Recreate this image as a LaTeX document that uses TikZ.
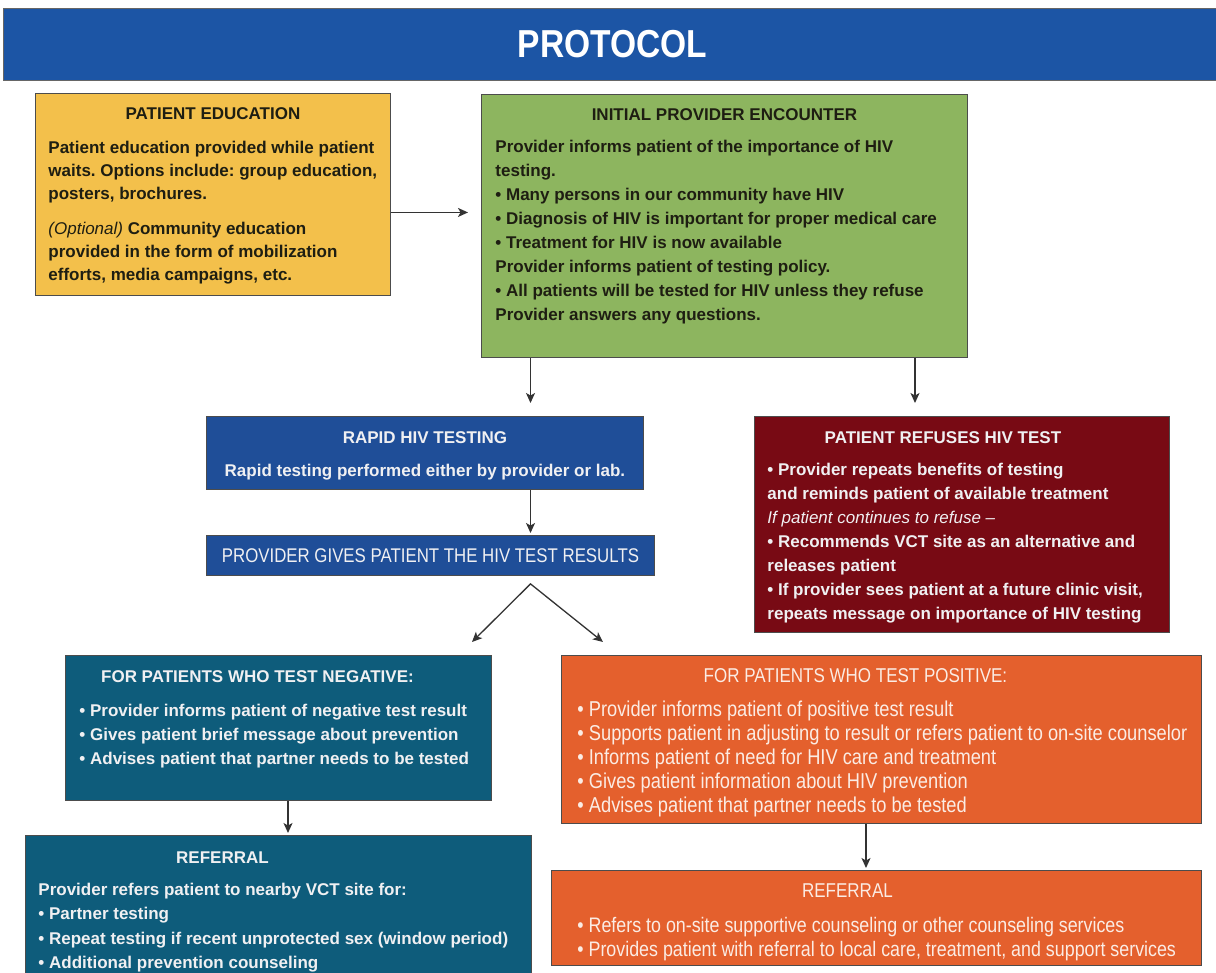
\documentclass[tikz,border=0pt]{standalone}
\usepackage{fontspec}
\setmainfont{Liberation Sans}
\newfontfamily\narrowfont{Liberation Sans}[FakeStretch=0.85]
\newfontfamily\bannerfont{Liberation Sans}[FakeStretch=0.86]
\usetikzlibrary{arrows.meta}
\frenchspacing

\definecolor{bannerblue}{HTML}{1C55A5}
\definecolor{eduyellow}{HTML}{F3C04B}
\definecolor{meetgreen}{HTML}{8DB55F}
\definecolor{testblue}{HTML}{1F4E98}
\definecolor{refusered}{HTML}{780A14}
\definecolor{negteal}{HTML}{0E5C7B}
\definecolor{posorange}{HTML}{E4602D}
\definecolor{darkink}{HTML}{1E1E12}
\definecolor{paleink}{HTML}{F0F0F2}
\definecolor{warmink}{HTML}{FBECE4}

\tikzset{
  card/.style={draw=black!70, line width=0.9pt, anchor=north west, inner sep=0pt},
  boldtext/.style={font=\bfseries\fontsize{17}{24}\selectfont},
  arr/.style={-{Stealth[length=10pt,width=9pt,inset=2.5pt]}, line width=1.3pt, black!80},
}

\begin{document}
\begin{tikzpicture}[x=1pt, y=-1pt]
    \useasboundingbox (0,0) rectangle (1216,973);

    % Kopfzeile
    \node[draw=black!60, fill=bannerblue, text=white, minimum width=1213pt, minimum height=72pt,
          font=\bannerfont\bfseries\fontsize{39}{41}\selectfont] (banner) at (609.5,44) {\hspace*{6pt}PROTOCOL};

    % Patient education
    \node[card, fill=eduyellow, text=darkink, minimum width=355pt, minimum height=202pt,
          font=\bfseries\fontsize{17}{23}\selectfont] (edu) at (35,93) {\parbox[t][202pt][t]{335pt}{%
      \centering\rule{0pt}{26pt}PATIENT EDUCATION\par\vspace{11pt}%
      \raggedright\setlength{\leftskip}{3pt}Patient education provided while patient\\
      waits. Options include: group education,\\
      posters, brochures.\par\vspace{12pt}%
      \textit{\mdseries (Optional)} Community education\\
      provided in the form of mobilization\\
      efforts, media campaigns, etc.}};

    % Initial provider encounter
    \node[card, boldtext, fill=meetgreen, text=darkink, minimum width=486pt, minimum height=263pt]
          (meet) at (481,94) {\parbox[t][263pt][t]{458pt}{%
      \centering\rule{0pt}{26pt}INITIAL PROVIDER ENCOUNTER\par\vspace{8pt}%
      \raggedright Provider informs patient of the importance of HIV\\
      testing.\\
      • Many persons in our community have HIV\\
      • Diagnosis of HIV is important for proper medical care\\
      • Treatment for HIV is now available\\
      Provider informs patient of testing policy.\\
      • All patients will be tested for HIV unless they refuse\\
      Provider answers any questions.}};

    % Rapid testing
    \node[card, boldtext, fill=testblue, text=paleink, minimum width=437pt, minimum height=73pt]
          (rapid) at (206,416) {\parbox[t][73pt][t]{427pt}{%
      \centering\rule{0pt}{27pt}RAPID HIV TESTING\par\vspace{9pt}%
      Rapid testing performed either by provider or lab.}};

    \node[card, fill=testblue, text=paleink, minimum width=448pt, minimum height=40pt,
          font=\narrowfont\fontsize{19.8}{22}\selectfont] (result) at (206,535)
          {PROVIDER GIVES PATIENT THE HIV TEST RESULTS};

    % Patient refuses
    \node[card, boldtext, fill=refusered, text=paleink, minimum width=415pt, minimum height=216pt]
          (refuse) at (754,416) {\parbox[t][216pt][t]{389pt}{%
      \centering\hspace*{-38pt}\rule{0pt}{27pt}PATIENT REFUSES HIV TEST\par\vspace{8pt}%
      \raggedright • Provider repeats benefits of testing\\
      and reminds patient of available treatment\\
      \textit{\mdseries If patient continues to refuse –}\\
      • Recommends VCT site as an alternative and\\
      releases patient\\
      • If provider sees patient at a future clinic visit,\\
      repeats message on importance of HIV testing}};

    % Negative
    \node[card, boldtext, fill=negteal, text=paleink, minimum width=426pt, minimum height=145pt]
          (neg) at (65,655) {\parbox[t][145pt][t]{398pt}{%
      \centering\hspace*{-42pt}\rule{0pt}{27pt}FOR PATIENTS WHO TEST NEGATIVE:\par\vspace{10pt}%
      \raggedright • Provider informs patient of negative test result\\
      • Gives patient brief message about prevention\\
      • Advises patient that partner needs to be tested}};

    \node[card, fill=negteal, text=paleink, minimum width=506pt, minimum height=150pt,
          font=\bfseries\fontsize{17}{24.5}\selectfont] (refneg) at (25,835) {\parbox[t][150pt][t]{480pt}{%
      \centering\hspace*{-112pt}\rule{0pt}{28pt}REFERRAL\par\vspace{7.5pt}%
      \raggedright Provider refers patient to nearby VCT site for:\\
      • Partner testing\\
      • Repeat testing if recent unprotected sex (window period)\\
      • Additional prevention counseling}};

    % Positive
    \node[card, fill=posorange, text=warmink, minimum width=640pt, minimum height=168pt,
          font=\narrowfont\fontsize{21.5}{24}\selectfont] (pos) at (561,655) {\parbox[t][168pt][t]{620pt}{%
      \centering\hspace*{-52pt}\rule{0pt}{27pt}{\fontsize{20}{24}\selectfont FOR PATIENTS WHO TEST POSITIVE:}\par\vspace{10pt}%
      \raggedright\setlength{\leftskip}{6pt}• Provider informs patient of positive test result\\
      • Supports patient in adjusting to result or refers patient to on-site counselor\\
      • Informs patient of need for HIV care and treatment\\
      • Gives patient information about HIV prevention\\
      • Advises patient that partner needs to be tested}};

    \node[card, fill=posorange, text=warmink, minimum width=650pt, minimum height=95pt,
          font=\narrowfont\fontsize{21}{24}\selectfont] (refpos) at (551,870) {\parbox[t][95pt][t]{630pt}{%
      \centering\hspace*{-58pt}\rule{0pt}{27pt}{\fontsize{20}{24}\selectfont REFERRAL}\par\vspace{11pt}%
      \raggedright\setlength{\leftskip}{16pt}• Refers to on-site supportive counseling or other counseling services\\
      • Provides patient with referral to local care, treatment, and support services}};

    % Verbindungen
    \coordinate (spine) at (530.5,0);
    \coordinate (side) at (915,0);
    \coordinate (negdrop) at (288,0);
    \coordinate (posdrop) at (866,0);
    \coordinate (fork) at ([yshift=-8pt]result.south -| spine);
    \coordinate (negtip) at (472,642);
    \coordinate (postip) at (603,642);

    \draw[arr, shorten >=13pt] ([yshift=-18pt]edu.east) -- ([yshift=-18pt]edu.east -| meet.west);
    \draw[arr, shorten >=13pt] (meet.south -| spine) -- (rapid.north -| spine);
    \draw[arr, shorten >=13pt] (meet.south -| side) -- (refuse.north -| side);
    \draw[arr, shorten >=2pt] (rapid.south -| spine) -- (result.north -| spine);
    \draw[arr, {Stealth[length=10pt,width=9pt,inset=2.5pt]}-{Stealth[length=10pt,width=9pt,inset=2.5pt]}]
        (negtip) -- (fork) -- (postip);
    \draw[arr, shorten >=2pt] (neg.south -| negdrop) -- (refneg.north -| negdrop);
    \draw[arr, shorten >=2pt] (pos.south -| posdrop) -- (refpos.north -| posdrop);
\end{tikzpicture}
\end{document}
